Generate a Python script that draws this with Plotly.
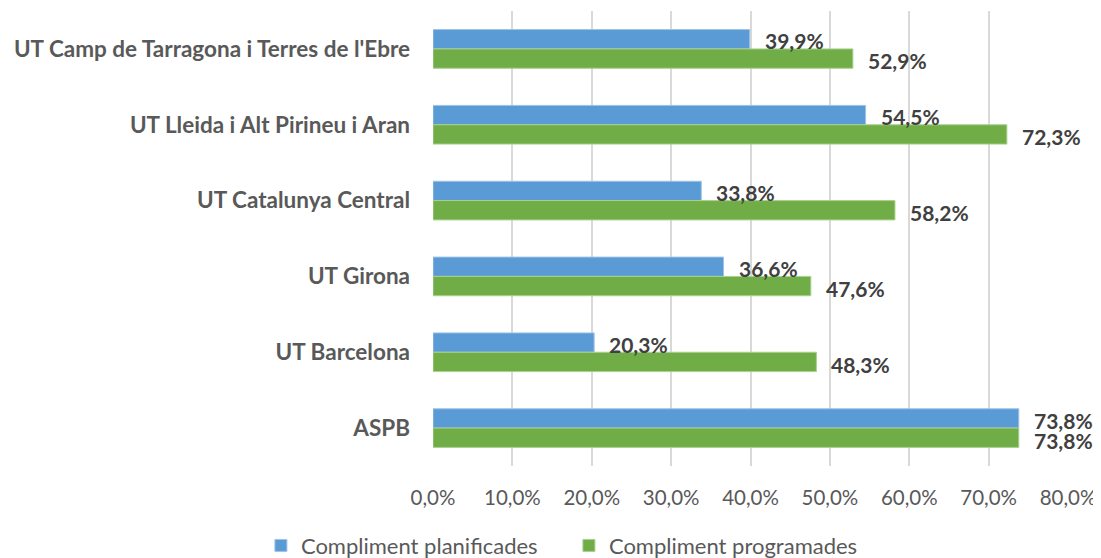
import plotly.graph_objects as go

categories = ["UT Camp de Tarragona i Terres de l'Ebre", "UT Lleida i Alt Pirineu i Aran",
              "UT Catalunya Central", "UT Girona", "UT Barcelona", "ASPB"]
planificades = [39.9, 54.5, 33.8, 36.6, 20.3, 73.8]
programades = [52.9, 72.3, 58.2, 47.6, 48.3, 73.8]
series_names = ["Compliment planificades", "Compliment programades"]
tick_vals = [0, 10, 20, 30, 40, 50, 60, 70, 80]

BLUE = "#5B9BD5"
GREEN = "#70AD47"
FONT = "Lato"


def fmt(v):
    return f"{v:.1f}".replace(".", ",") + "%"


fig = go.Figure()
fig.add_trace(go.Bar(y=categories, x=planificades, orientation="h", name=series_names[0],
                     marker=dict(color=BLUE, line=dict(color="#9DC3E6", width=1))))
fig.add_trace(go.Bar(y=categories, x=programades, orientation="h", name=series_names[1],
                     marker=dict(color=GREEN, line=dict(color="#A9D18E", width=1))))

for cat, v in zip(categories, planificades):
    fig.add_annotation(x=v, y=cat, text=f"<b>{fmt(v)}</b>", showarrow=False, xanchor="left",
                       xshift=13, yshift=8, font=dict(family=FONT, size=21, color="#404040"))
for cat, v in zip(categories, programades):
    fig.add_annotation(x=v, y=cat, text=f"<b>{fmt(v)}</b>", showarrow=False, xanchor="left",
                       xshift=13, yshift=-12, font=dict(family=FONT, size=21, color="#404040"))

fig.update_layout(
    width=1101, height=558,
    margin=dict(l=425, r=41, t=3, b=100, autoexpand=False),
    paper_bgcolor="white", plot_bgcolor="white",
    barmode="group", bargap=0.49, bargroupgap=0,
    font=dict(family=FONT, color="#595959"),
    showlegend=True,
    legend=dict(orientation="h", x=-0.271, xanchor="left", y=-0.175, yanchor="middle",
                font=dict(family=FONT, size=22, color="#595959"), traceorder="normal",
                itemwidth=30, entrywidth=263, entrywidthmode="pixels"),
    xaxis=dict(range=[0, 80], tickvals=tick_vals, ticktext=[fmt(t) for t in tick_vals],
               showgrid=True, gridcolor="#D9D9D9", gridwidth=1.5, zeroline=False,
               showline=False, ticks="", ticklabelstandoff=17, automargin=False,
               tickfont=dict(family=FONT, size=20.5, color="#595959")),
    yaxis=dict(autorange="reversed", showgrid=False, zeroline=False, showline=False,
               ticks="", ticklabelstandoff=22, automargin=False,
               tickfont=dict(family=FONT, size=22.5, color="#595959", weight="bold")),
)

fig.write_html("out.html")
